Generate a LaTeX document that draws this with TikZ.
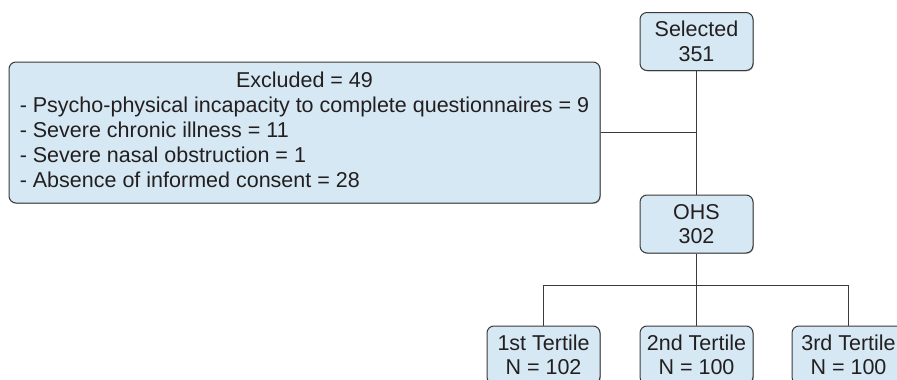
\documentclass[tikz,border=0pt]{standalone}
\usepackage{fontspec}
\setmainfont{Liberation Sans}
\usetikzlibrary{shadows,calc}
\definecolor{boxfill}{HTML}{D6E8F3}
\definecolor{txt}{HTML}{231F20}
\definecolor{edge}{HTML}{3A3A3A}
\begin{document}
\begin{tikzpicture}[x=1pt,y=-1pt,
  box/.style={draw=edge,line width=1pt,fill=boxfill,rounded corners=7pt,
    minimum width=113pt,minimum height=58pt,align=center,inner sep=0pt,
    text=txt,font=\fontsize{21.5}{24.5}\selectfont,
    drop shadow={shadow xshift=0.8pt,shadow yshift=-0.8pt,fill=black!45,opacity=0.6}},
  conn/.style={draw=edge,line width=1pt}]
\useasboundingbox (0,0) rectangle (897,380);
\clip (0,0) rectangle (897,380);
\fill[white] (0,0) rectangle (897,380);
\node[box] (sel) at (696.5,41.5) {Selected\\351};
\node[box] (ohs) at (696.5,224) {OHS\\302};
\node[box,minimum width=591pt,minimum height=141pt,
  font=\fontsize{21.5}{25}\selectfont] (exc) at (304.5,132.5)
  {\begin{tabular}{@{}l@{}}
   \multicolumn{1}{@{}c@{}}{Excluded = 49}\\
   - Psycho-physical incapacity to complete questionnaires = 9\\
   - Severe chronic illness = 11\\
   - Severe nasal obstruction = 1\\
   - Absence of informed consent = 28
   \end{tabular}};
\node[box] (t1) at (543.5,355) {1st Tertile\\N = 102};
\node[box] (t2) at (696.5,355) {2nd Tertile\\N = 100};
\node[box] (t3) at (848.5,355) {3rd Tertile\\N = 100};
\coordinate (j1) at (ohs.north |- exc.east);
\coordinate (j2) at ($(ohs.south)+(0,32)$);
\draw[conn] (sel.south) -- (ohs.north);
\draw[conn] (exc.east) -- (j1);
\draw[conn] (ohs.south) -- (t2.north);
\draw[conn] (t1.north) -- (t1.north |- j2) -- (t3.north |- j2) -- (t3.north);
\end{tikzpicture}
\end{document}
